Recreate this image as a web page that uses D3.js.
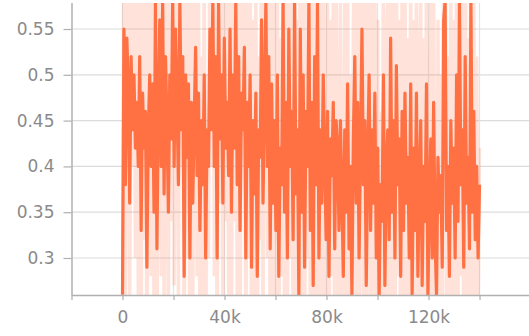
<!DOCTYPE html>
<html>
<head>
<meta charset="utf-8">
<script src="https://cdn.jsdelivr.net/npm/d3@7"></script>
<style>
  html, body { margin: 0; padding: 0; background: #fff; }
  svg { display: block; }
  .tick text { font-family: "DejaVu Sans", sans-serif; fill: #8a8a8a; }
</style>
</head>
<body>
<div id="chart"></div>
<script>
// smoothed values, 0 .. 140k steps
const smoothed = [
  0.26, 0.55, 0.38, 0.54, 0.49, 0.36, 0.52, 0.44, 0.50, 0.42, 0.47, 0.40, 0.52, 0.33, 0.48, 0.42, 0.46, 0.29, 0.44, 0.50, 0.40, 0.49, 0.35, 0.58, 0.31,
  0.46, 0.56, 0.40, 0.58, 0.37, 0.52, 0.45, 0.35, 0.50, 0.43, 0.58, 0.40, 0.55, 0.47, 0.38, 0.58, 0.44, 0.52, 0.28, 0.50, 0.41, 0.49, 0.30, 0.47, 0.36,
  0.45, 0.53, 0.39, 0.48, 0.33, 0.45, 0.38, 0.50, 0.30, 0.44, 0.40, 0.55, 0.44, 0.58, 0.40, 0.52, 0.30, 0.58, 0.43, 0.50, 0.36, 0.54, 0.42, 0.47, 0.39,
  0.55, 0.35, 0.50, 0.42, 0.58, 0.38, 0.52, 0.33, 0.48, 0.44, 0.53, 0.30, 0.47, 0.40, 0.50, 0.29, 0.45, 0.37, 0.48, 0.28, 0.44, 0.41, 0.56, 0.36, 0.47,
  0.58, 0.40, 0.52, 0.31, 0.49, 0.36, 0.45, 0.33, 0.50, 0.28, 0.42, 0.38, 0.58, 0.35, 0.47, 0.30, 0.55, 0.40, 0.46, 0.32, 0.58, 0.37, 0.44, 0.26, 0.55,
  0.35, 0.50, 0.29, 0.46, 0.40, 0.58, 0.33, 0.47, 0.27, 0.52, 0.38, 0.58, 0.30, 0.44, 0.36, 0.50, 0.41, 0.32, 0.46, 0.28, 0.43, 0.39, 0.47, 0.31, 0.45,
  0.42, 0.33, 0.45, 0.37, 0.28, 0.44, 0.35, 0.49, 0.31, 0.40, 0.26, 0.43, 0.52, 0.36, 0.47, 0.30, 0.42, 0.55, 0.38, 0.45, 0.27, 0.41, 0.50, 0.33, 0.44,
  0.36, 0.48, 0.30, 0.42, 0.26, 0.38, 0.34, 0.50, 0.27, 0.40, 0.44, 0.32, 0.54, 0.35, 0.45, 0.30, 0.51, 0.38, 0.43, 0.28, 0.46, 0.33, 0.48, 0.36, 0.41,
  0.30, 0.49, 0.26, 0.42, 0.33, 0.48, 0.28, 0.38, 0.45, 0.27, 0.40, 0.34, 0.49, 0.26, 0.36, 0.43, 0.30, 0.47, 0.32, 0.26, 0.41, 0.35, 0.39, 0.29, 0.56,
  0.58, 0.33, 0.40, 0.28, 0.45, 0.36, 0.42, 0.30, 0.50, 0.34, 0.58, 0.38, 0.44, 0.29, 0.52, 0.36, 0.41, 0.31, 0.58, 0.35, 0.46, 0.32, 0.40, 0.30, 0.38
];

// raw values (drawn faint behind)
const raw = [
  0.10, 0.70, 0.25, 0.68, 0.60, 0.22, 0.66, 0.40, 0.64, 0.30, 0.62, 0.26, 0.68, 0.18, 0.62, 0.32, 0.60, 0.15, 0.50, 0.66, 0.28, 0.64, 0.20, 0.75, 0.18,
  0.52, 0.70, 0.28, 0.74, 0.24, 0.66, 0.44, 0.22, 0.64, 0.34, 0.74, 0.27, 0.70, 0.50, 0.25, 0.74, 0.40, 0.66, 0.14, 0.64, 0.30, 0.62, 0.16, 0.60, 0.24,
  0.50, 0.66, 0.28, 0.60, 0.20, 0.52, 0.26, 0.64, 0.16, 0.50, 0.30, 0.70, 0.40, 0.74, 0.28, 0.66, 0.16, 0.74, 0.36, 0.64, 0.22, 0.68, 0.34, 0.60, 0.26,
  0.70, 0.20, 0.64, 0.34, 0.74, 0.24, 0.66, 0.18, 0.60, 0.40, 0.68, 0.15, 0.60, 0.30, 0.64, 0.14, 0.56, 0.24, 0.62, 0.13, 0.52, 0.32, 0.72, 0.22, 0.60,
  0.76, 0.30, 0.68, 0.18, 0.64, 0.24, 0.58, 0.20, 0.66, 0.14, 0.54, 0.28, 0.76, 0.22, 0.62, 0.16, 0.72, 0.30, 0.60, 0.18, 0.76, 0.26, 0.56, 0.12, 0.72,
  0.20, 0.66, 0.14, 0.62, 0.30, 0.76, 0.18, 0.62, 0.12, 0.68, 0.26, 0.76, 0.15, 0.58, 0.22, 0.66, 0.34, 0.18, 0.62, 0.14, 0.56, 0.28, 0.62, 0.16, 0.60,
  0.40, 0.18, 0.60, 0.26, 0.14, 0.58, 0.22, 0.64, 0.16, 0.50, 0.12, 0.56, 0.68, 0.22, 0.62, 0.15, 0.52, 0.72, 0.26, 0.60, 0.13, 0.52, 0.66, 0.18, 0.58,
  0.24, 0.62, 0.16, 0.56, 0.12, 0.46, 0.22, 0.66, 0.13, 0.52, 0.58, 0.18, 0.70, 0.22, 0.60, 0.15, 0.66, 0.28, 0.56, 0.14, 0.62, 0.20, 0.64, 0.24, 0.54,
  0.16, 0.64, 0.12, 0.56, 0.20, 0.62, 0.14, 0.44, 0.60, 0.13, 0.54, 0.22, 0.64, 0.12, 0.40, 0.58, 0.16, 0.62, 0.20, 0.12, 0.56, 0.24, 0.50, 0.15, 0.72,
  0.76, 0.20, 0.52, 0.14, 0.60, 0.24, 0.56, 0.16, 0.66, 0.22, 0.76, 0.28, 0.58, 0.15, 0.68, 0.24, 0.54, 0.18, 0.76, 0.22, 0.60, 0.20, 0.52, 0.22, 0.42
];

const lastStep = 140000;
const xTicks = [-20000, 0, 20000, 40000, 60000, 80000, 100000, 120000, 140000];
const xLabels = {0: '0', 40000: '40k', 80000: '80k', 120000: '120k'};
const yTicks = [0.3, 0.35, 0.4, 0.45, 0.5, 0.55];

const width = 529;
const height = 336;
const m = {left: 71.5, right: 529, top: 3, bottom: 295};

const steps = smoothed.map((d, i) => i * lastStep / (smoothed.length - 1));

const x = d3.scaleLinear().domain([-20000, 159400]).range([m.left, m.right]);
const y = d3.scaleLinear().domain([0.2596, 0.5784]).range([m.bottom, m.top]);

const svg = d3.select('#chart').append('svg')
  .attr('width', width)
  .attr('height', height);

svg.append('defs').append('clipPath').attr('id', 'clip')
  .append('rect')
  .attr('x', m.left).attr('y', m.top)
  .attr('width', m.right - m.left).attr('height', m.bottom - m.top);

// grid
const grid = svg.append('g');
grid.selectAll('line.h')
  .data(yTicks)
  .join('line')
  .attr('class', 'h')
  .attr('x1', m.left).attr('x2', m.right)
  .attr('y1', d => y(d)).attr('y2', d => y(d))
  .attr('stroke', '#dcdcdc').attr('stroke-width', 1.2);
grid.selectAll('line.v')
  .data(xTicks.filter(d => d > -20000))
  .join('line')
  .attr('class', 'v')
  .attr('x1', d => x(d)).attr('x2', d => x(d))
  .attr('y1', m.top).attr('y2', m.bottom)
  .attr('stroke', '#e4e4e4').attr('stroke-width', 1.2);

const line = (vals) => d3.line()
  .x((d, i) => x(steps[i]))
  .y(d => y(d))(vals);

const plot = svg.append('g').attr('clip-path', 'url(#clip)');
plot.append('path')
  .attr('d', line(raw))
  .attr('fill', 'none')
  .attr('stroke', '#ff7043')
  .attr('stroke-opacity', 0.2)
  .attr('stroke-width', 3.4);
plot.append('path')
  .attr('d', line(smoothed))
  .attr('fill', 'none')
  .attr('stroke', '#ff7043')
  .attr('stroke-width', 3.2)
  .attr('stroke-linejoin', 'round');

// axes
const xAxis = svg.append('g')
  .attr('transform', `translate(0,${m.bottom})`)
  .call(d3.axisBottom(x).tickValues(xTicks).tickSize(5).tickPadding(11)
    .tickFormat(d => xLabels[d] || ''));
const yAxis = svg.append('g')
  .attr('transform', `translate(${m.left},0)`)
  .call(d3.axisLeft(y).tickValues(yTicks).tickSize(8).tickPadding(9)
    .tickFormat(d => String(+d.toFixed(2))));

[xAxis, yAxis].forEach(a => {
  a.select('.domain').attr('stroke', '#b0b0b0').attr('stroke-width', 1.5);
  a.selectAll('.tick line').attr('stroke', '#b0b0b0').attr('stroke-width', 1.2);
  a.selectAll('.tick text').attr('font-size', 17);
});
xAxis.select('.domain').attr('d', `M${m.left},0.5H${m.right}`);
yAxis.select('.domain').attr('d', `M0.5,${m.top}V${m.bottom}`);
</script>
</body>
</html>
